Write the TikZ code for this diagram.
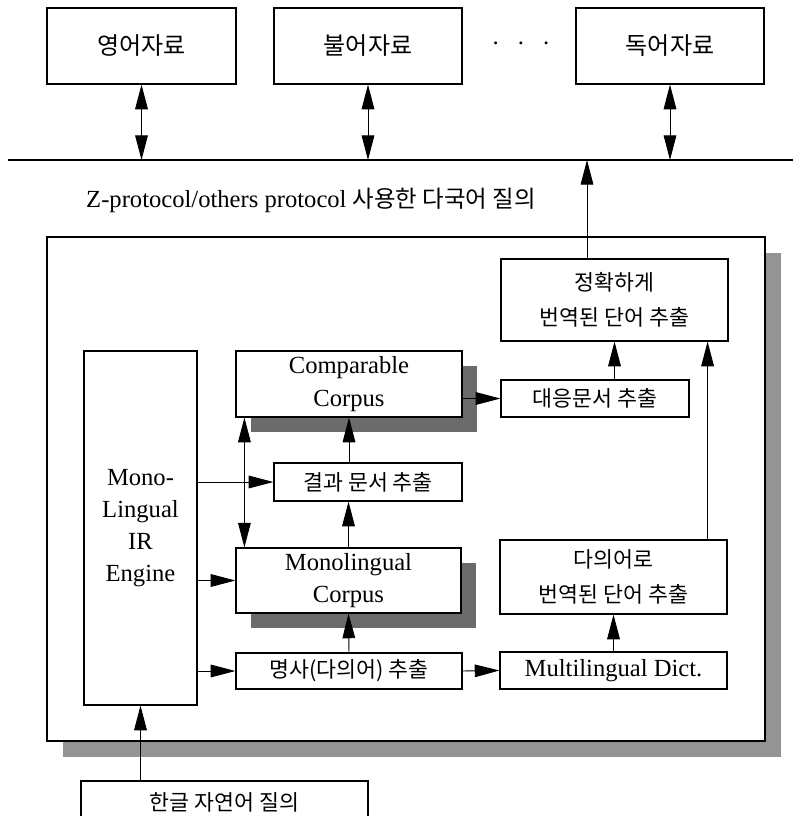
\documentclass[tikz,border=0pt]{standalone}
\usepackage{fontspec}
\setmainfont{Liberation Serif}
\newfontfamily\kr{Noto Sans CJK KR}
\usetikzlibrary{arrows.meta, shadows, calc}

\newcommand{\lat}{\fontsize{21}{27.5}\selectfont}
\newcommand{\hg}{\kr\fontsize{18.5}{30}\selectfont}
\newcommand{\hgbig}{\kr\fontsize{20.5}{24}\selectfont}

\begin{document}
\begin{tikzpicture}[x=0.03cm, y=-0.03cm,
        box/.style={draw, line width=1pt, fill=white, inner sep=0pt, align=center},
        shad/.style={drop shadow={shadow xshift=0.45cm, shadow yshift=-0.45cm, fill=black!58, opacity=1}},
        arr/.style={-{Triangle[length=0.74cm, width=0.38cm]}, line width=0.8pt},
        dbl/.style={{Triangle[length=0.74cm, width=0.38cm]}-{Triangle[length=0.74cm, width=0.38cm]}, line width=0.8pt}]
        \useasboundingbox (0,0) rectangle (793,816);

        % sources on the network
        \node[box, font=\hgbig, minimum width=5.67cm, minimum height=2.28cm] at (141.5,46) (eng) {영어자료};
        \node[box, font=\hgbig, minimum width=5.64cm, minimum height=2.28cm] at (368,46)   (fre) {불어자료};
        \node[box, font=\hgbig, minimum width=5.64cm, minimum height=2.28cm] at (670,46)   (ger) {독어자료};
        \node[font=\lat] at (521,47) (dots) {·\hspace{14.5pt}·\hspace{14.5pt}·};

        \coordinate (busL) at (8,160);
        \coordinate (busR) at (793,160);
        \draw [line width=1pt] (busL) -- (busR);
        \node[anchor=west, inner sep=0pt, font=\lat] at (86,200) (proto) {Z-protocol/others protocol {\kr\fontsize{20}{24}\selectfont 사용한 다국어 질의}};

        \draw [dbl] (eng.south) -- (eng.south |- busL);
        \draw [dbl] (fre.south) -- (fre.south |- busL);
        \draw [dbl] (ger.south) -- (ger.south |- busL);

        % system frame
        \fill [black!42] (63,253) rectangle (781,757);
        \draw [line width=1pt, fill=white] (47,237) rectangle (765,741);

        \node[box, font=\hg, minimum width=6.81cm, minimum height=2.46cm] at (614.5,300) (jeong) {정확하게\\번역된 단어 추출};
        \node[box, font=\lat, minimum width=3.39cm, minimum height=10.62cm] at (140.5,528) (mono) {Mono-\\Lingual\\IR\\Engine};
        \node[box, shad, font=\lat, minimum width=6.78cm, minimum height=1.98cm] at (349,384) (comp) {Comparable\\Corpus};
        \node[box, font=\hg, minimum width=5.64cm, minimum height=1.11cm] at (595,398.5) (dae) {대응문서 추출};
        \node[box, font=\hg, minimum width=5.64cm, minimum height=1.14cm] at (368,482) (gyeol) {결과 문서 추출};
        \node[box, shad, font=\lat, minimum width=6.75cm, minimum height=1.95cm] at (348.5,580.5) (monoc) {Monolingual\\Corpus};
        \node[box, font=\hg, minimum width=6.81cm, minimum height=2.22cm] at (613.5,577) (dai) {다의어로\\번역된 단어 추출};
        \node[box, font=\hg, minimum width=6.78cm, minimum height=1.08cm] at (349,671) (noun) {명사(다의어) 추출};
        \node[box, font=\lat, minimum width=6.81cm, minimum height=1.11cm] at (613.5,670.5) (multi) {Multilingual Dict.};
        \node[box, font=\hg, minimum width=8.61cm, minimum height=1.26cm] at (224.5,802) (hangul) {한글 자연어 질의};

        % connectors
        \coordinate (up) at (587,160);
        \draw [arr] (up |- jeong.north) -- (up);
        \draw [arr] (mono.east |- gyeol.west) -- (gyeol.west);
        \draw [arr] (mono.east |- monoc.west) -- (monoc.west);
        \draw [arr] (mono.east |- noun.west) -- (noun.west);
        \draw [arr] (noun.north) -- (monoc.south);
        \draw [arr] (monoc.north) -- (monoc.north |- gyeol.south);
        \draw [arr] (comp.south |- gyeol.north) -- (comp.south);
        \coordinate (cm) at ($(comp.south west)+(9,0)$);
        \draw [dbl] (cm) -- (cm |- monoc.north);
        \draw [arr] (comp.east |- dae.west) -- (dae.west);
        \draw [arr] (jeong.south |- dae.north) -- (jeong.south);
        \draw [arr] (noun.east) -- (multi.west);
        \draw [arr] (multi.north) -- (dai.south);
        \coordinate (dr) at ($(dai.north east)+(-20,0)$);
        \draw [arr] (dr) -- (dr |- jeong.south);
        \draw [arr] (mono.south |- hangul.north) -- (mono.south);
    \end{tikzpicture}
\end{document}
